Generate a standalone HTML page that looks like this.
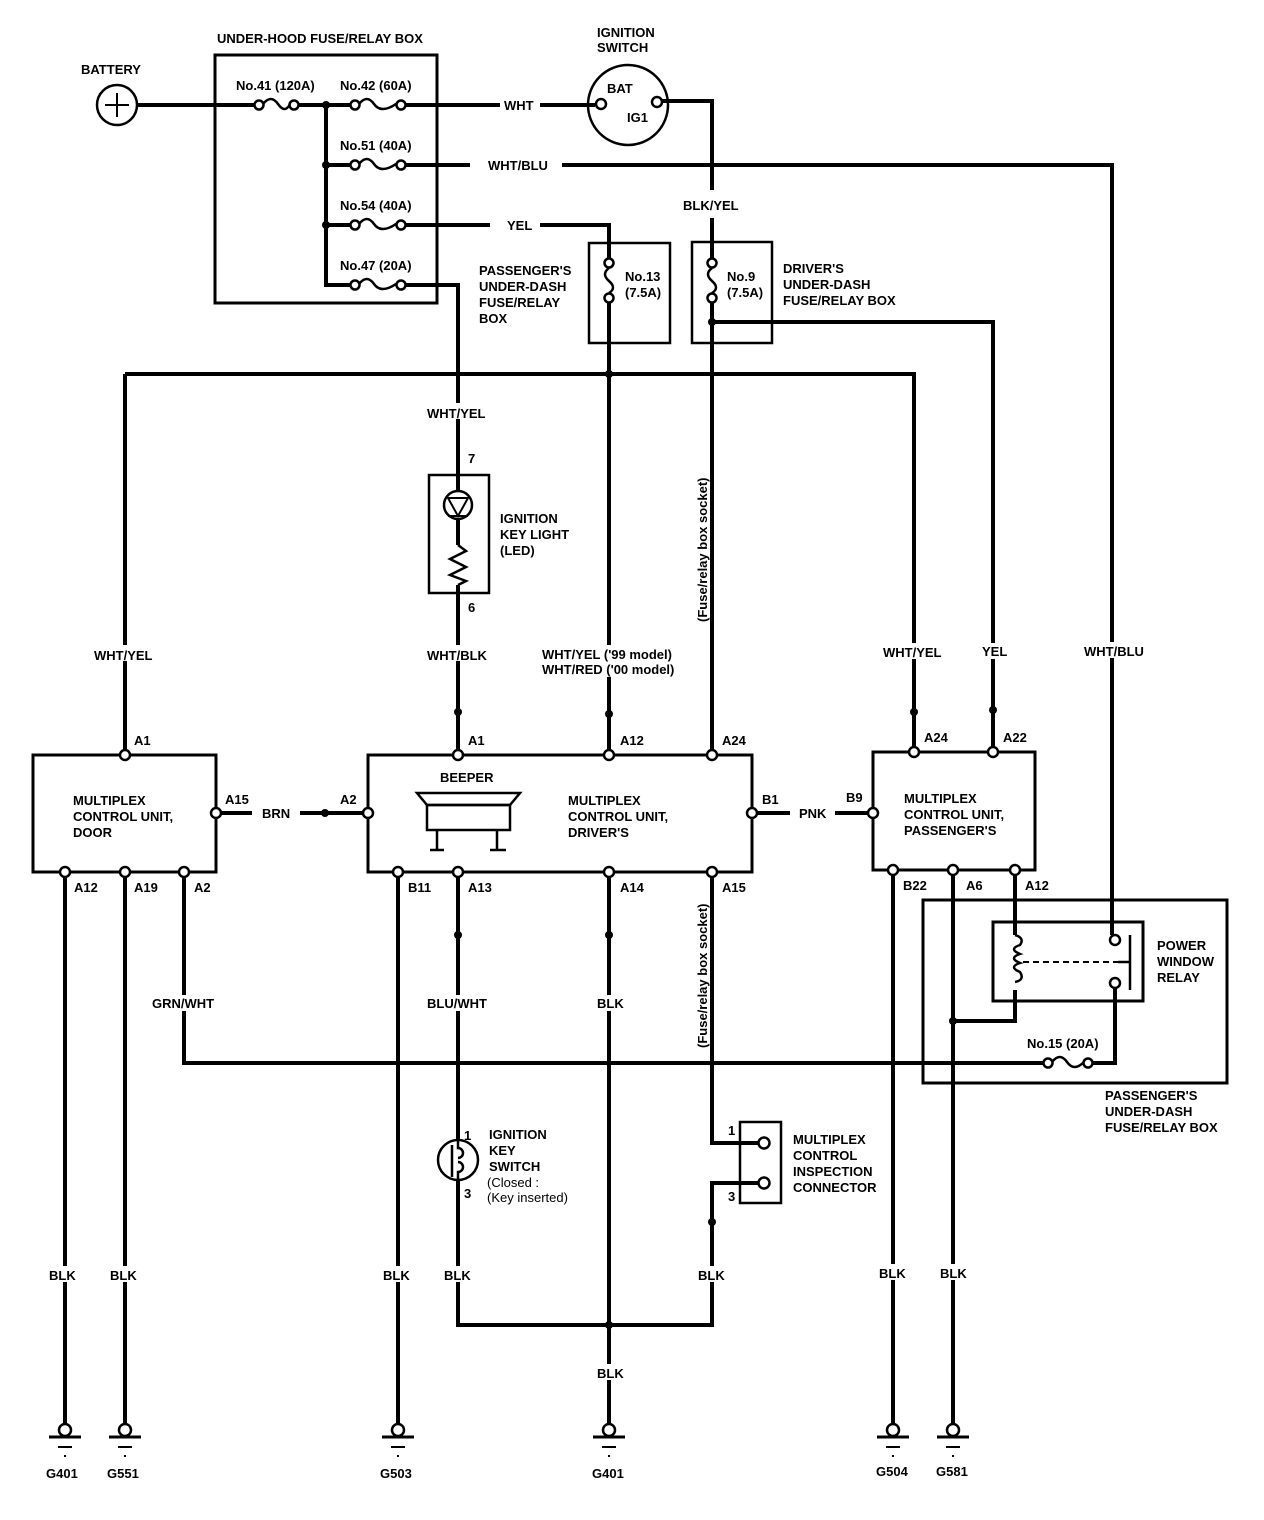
<!DOCTYPE html>
<html><head><meta charset="utf-8"><style>
html,body{margin:0;padding:0;background:#fff;}
svg{display:block;}
text{font-family:"Liberation Sans",sans-serif;font-weight:bold;font-size:13px;fill:#000;}
.m{text-anchor:middle;}
</style></head><body>
<svg width="1264" height="1520" viewBox="0 0 1264 1520" xmlns="http://www.w3.org/2000/svg">
<g fill="none" stroke="#000" stroke-width="4" stroke-linejoin="miter">
<circle cx="117" cy="105" r="20" stroke-width="2.5"/>
<path d="M105 105H129M117 93V117" stroke-width="2"/>
<path d="M137 105H254M299 105H350M326 105V285H350"/>
<path d="M326 165H350M326 225H350"/>
<rect x="215" y="55" width="222" height="248" stroke-width="3"/>
<g stroke-width="2.5">
<circle cx="259" cy="105" r="4.5"/><circle cx="294" cy="105" r="4.5"/><path d="M263 104q8-10 15 0t12 0"/>
<circle cx="355" cy="105" r="4.5"/><circle cx="401" cy="105" r="4.5"/><path d="M359 104q8-10 15 0t22 0"/>
<circle cx="355" cy="165" r="4.5"/><circle cx="401" cy="165" r="4.5"/><path d="M359 164q8-10 15 0t22 0"/>
<circle cx="355" cy="225" r="4.5"/><circle cx="401" cy="225" r="4.5"/><path d="M359 224q8-10 15 0t22 0"/>
<circle cx="355" cy="285" r="4.5"/><circle cx="401" cy="285" r="4.5"/><path d="M359 284q8-10 15 0t22 0"/>
</g>
<path d="M406 105H500M540 105H595"/>
<circle cx="628" cy="105" r="40" stroke-width="2.5"/>
<circle cx="601" cy="104" r="5" stroke-width="2.5"/>
<circle cx="657" cy="102" r="5" stroke-width="2.5"/>
<path d="M662 101H712V190M712 218V258"/>
<path d="M406 165H470M562 165H1112V935"/>
<path d="M406 225H490M540 225H609V258"/>
<path d="M406 285H458V475"/>
<rect x="589" y="243" width="81" height="100" stroke-width="2.5"/>
<rect x="692" y="242" width="80" height="101" stroke-width="2.5"/>
<g stroke-width="2.5">
<circle cx="609" cy="263" r="4.5"/><circle cx="609" cy="298" r="4.5"/><path d="M609 268q-8 6 0 13t0 12"/>
<circle cx="712" cy="263" r="4.5"/><circle cx="712" cy="298" r="4.5"/><path d="M712 268q-8 6 0 13t0 12"/>
</g>
<path d="M609 303V750M712 303V750M712 322H993V750"/>
<path d="M125 374H914V750M125 374V750"/>
<rect x="429" y="475" width="60" height="118" stroke-width="2.5"/>
<path d="M458 475V491M458 519V545M458 585V750"/>
<circle cx="458" cy="505" r="14" stroke-width="2.5"/>
<path d="M448 498H468L458 516Z M448 516H468" stroke-width="2"/>
<path d="M458 545L466 551L450 559L466 567L450 575L466 581L458 585" stroke-width="2.5"/>
<rect x="33" y="755" width="183" height="117" stroke-width="3"/>
<rect x="368" y="755" width="384" height="117" stroke-width="3"/>
<rect x="873" y="752" width="162" height="118" stroke-width="3"/>
<path d="M417 793H520L510 805H427Z" stroke-width="2.5"/>
<rect x="427" y="805" width="83" height="25" stroke-width="2.5"/>
<path d="M437 830V850M430 850H444M497 830V850M490 850H506" stroke-width="2.5"/>
<path d="M221 813H252M300 813H363M757 813H790M835 813H868"/>
<path d="M65 872V1425M125 872V1425M184 872V1063H1043"/>
<path d="M398 872V1425M458 872V1140M458 1180V1325H712V1183H758"/>
<path d="M609 872V1425M712 872V1143H758"/>
<path d="M893 870V1425M953 870V1425M1015 870V935M1015 990V1021H953"/>
<path d="M1093 1063H1115V988"/>
<rect x="923" y="900" width="304" height="183" stroke-width="3"/>
<rect x="993" y="922" width="150" height="79" stroke-width="3"/>
<path d="M1015 935q10 3 5 10q-12 4 0 9q-12 4 0 9q-12 4 0 9q5 8 -5 10" stroke-width="2.5"/>
<path d="M1023 962H1118" stroke-width="2" stroke-dasharray="6 4"/>
<path d="M1130 935V990M1118 962H1130" stroke-width="2.5"/>
<circle cx="1115" cy="940" r="5" stroke-width="2.5"/>
<circle cx="1115" cy="983" r="5" stroke-width="2.5"/>
<g stroke-width="2.5">
<circle cx="1048" cy="1063" r="4.5"/><circle cx="1088" cy="1063" r="4.5"/><path d="M1052 1062q8-10 15 0t17 0"/>
</g>
<circle cx="458" cy="1160" r="20" stroke-width="2.5"/>
<path d="M452 1145V1177M458 1140v8a5 5 0 0 1 0 10M458 1180v-8a5 5 0 0 0 0-10" stroke-width="2.5"/>
<rect x="740" y="1122" width="41" height="81" stroke-width="2.5"/>
<circle cx="764" cy="1143" r="5.5" stroke-width="2.5"/>
<circle cx="764" cy="1183" r="5.5" stroke-width="2.5"/>
</g>
<g fill="#fff" stroke="#000" stroke-width="2.5">
<circle cx="125" cy="755" r="5"/><circle cx="216" cy="813" r="5"/>
<circle cx="65" cy="872" r="5"/><circle cx="125" cy="872" r="5"/><circle cx="184" cy="872" r="5"/>
<circle cx="368" cy="813" r="5"/><circle cx="458" cy="755" r="5"/><circle cx="609" cy="755" r="5"/><circle cx="712" cy="755" r="5"/>
<circle cx="752" cy="813" r="5"/>
<circle cx="398" cy="872" r="5"/><circle cx="458" cy="872" r="5"/><circle cx="609" cy="872" r="5"/><circle cx="712" cy="872" r="5"/>
<circle cx="873" cy="813" r="5"/><circle cx="914" cy="752" r="5"/><circle cx="993" cy="752" r="5"/>
<circle cx="893" cy="870" r="5"/><circle cx="953" cy="870" r="5"/><circle cx="1015" cy="870" r="5"/>
</g>
<g fill="#000">
<circle cx="326" cy="105" r="4"/><circle cx="326" cy="165" r="4"/><circle cx="326" cy="225" r="4"/>
<circle cx="712" cy="322" r="4"/><circle cx="609" cy="374" r="4"/>
<circle cx="458" cy="712" r="4"/><circle cx="609" cy="714" r="4"/><circle cx="914" cy="712" r="4"/><circle cx="993" cy="710" r="4"/>
<circle cx="325" cy="813" r="4"/>
<circle cx="458" cy="935" r="4"/><circle cx="609" cy="935" r="4"/><circle cx="712" cy="1222" r="4"/>
<circle cx="609" cy="1325" r="4"/><circle cx="953" cy="1021" r="4"/>
</g>
<g fill="none" stroke="#000">
<g id="gd">
<circle cx="65" cy="1430" r="6" stroke-width="2.5" fill="#fff"/>
<path d="M49 1437H81" stroke-width="3"/><path d="M58 1447H72" stroke-width="2"/><path d="M64 1456H66" stroke-width="2"/>
</g>
<use href="#gd" x="60"/><use href="#gd" x="333"/><use href="#gd" x="544"/><use href="#gd" x="828"/><use href="#gd" x="888"/>
</g>
<g fill="#fff">
<rect x="440" y="403" width="38" height="16"/><rect x="100" y="645" width="50" height="16"/>
<rect x="425" y="645" width="66" height="16"/><rect x="540" y="645" width="140" height="32"/>
<rect x="880" y="643" width="66" height="16"/><rect x="980" y="643" width="26" height="16"/><rect x="1082" y="642" width="66" height="16"/>
<rect x="150" y="995" width="70" height="16"/><rect x="425" y="995" width="66" height="16"/><rect x="594" y="995" width="30" height="16"/>
<rect x="46" y="1266" width="38" height="16"/><rect x="106" y="1266" width="38" height="16"/><rect x="380" y="1266" width="38" height="16"/>
<rect x="440" y="1266" width="38" height="16"/><rect x="694" y="1266" width="38" height="16"/><rect x="594" y="1364" width="30" height="16"/>
<rect x="875" y="1264" width="38" height="16"/><rect x="935" y="1264" width="38" height="16"/>
</g>
<text x="81" y="74">BATTERY</text>
<text x="217" y="43">UNDER-HOOD FUSE/RELAY BOX</text>
<text x="597" y="37">IGNITION</text><text x="597" y="52">SWITCH</text>
<text x="236" y="90">No.41 (120A)</text><text x="340" y="90">No.42 (60A)</text>
<text x="340" y="150">No.51 (40A)</text><text x="340" y="210">No.54 (40A)</text><text x="340" y="270">No.47 (20A)</text>
<text x="504" y="110">WHT</text><text x="488" y="170">WHT/BLU</text><text x="507" y="230">YEL</text>
<text x="607" y="93">BAT</text><text x="627" y="122">IG1</text>
<text x="683" y="210">BLK/YEL</text>
<text x="479" y="275">PASSENGER'S</text><text x="479" y="291">UNDER-DASH</text><text x="479" y="307">FUSE/RELAY</text><text x="479" y="323">BOX</text>
<text x="625" y="281">No.13</text><text x="625" y="297">(7.5A)</text>
<text x="727" y="281">No.9</text><text x="727" y="297">(7.5A)</text>
<text x="783" y="273">DRIVER'S</text><text x="783" y="289">UNDER-DASH</text><text x="783" y="305">FUSE/RELAY BOX</text>
<text x="427" y="418">WHT/YEL</text>
<text x="468" y="463">7</text><text x="468" y="612">6</text>
<text x="500" y="523">IGNITION</text><text x="500" y="539">KEY LIGHT</text><text x="500" y="555">(LED)</text>
<text transform="translate(707,622) rotate(-90)">(Fuse/relay box socket)</text>
<text x="94" y="660">WHT/YEL</text><text x="427" y="660">WHT/BLK</text>
<text x="542" y="659">WHT/YEL ('99 model)</text><text x="542" y="674">WHT/RED ('00 model)</text>
<text x="883" y="657">WHT/YEL</text><text x="982" y="656">YEL</text><text x="1084" y="656">WHT/BLU</text>
<text x="134" y="745">A1</text><text x="468" y="745">A1</text><text x="620" y="745">A12</text><text x="722" y="745">A24</text>
<text x="924" y="742">A24</text><text x="1003" y="742">A22</text>
<text x="73" y="805">MULTIPLEX</text><text x="73" y="821">CONTROL UNIT,</text><text x="73" y="837">DOOR</text>
<text x="225" y="804">A15</text><text x="262" y="818">BRN</text><text x="340" y="804">A2</text>
<text x="440" y="782">BEEPER</text>
<text x="568" y="805">MULTIPLEX</text><text x="568" y="821">CONTROL UNIT,</text><text x="568" y="837">DRIVER'S</text>
<text x="762" y="804">B1</text><text x="799" y="818">PNK</text><text x="846" y="802">B9</text>
<text x="904" y="803">MULTIPLEX</text><text x="904" y="819">CONTROL UNIT,</text><text x="904" y="835">PASSENGER'S</text>
<text x="74" y="892">A12</text><text x="134" y="892">A19</text><text x="194" y="892">A2</text>
<text x="408" y="892">B11</text><text x="468" y="892">A13</text><text x="620" y="892">A14</text><text x="722" y="892">A15</text>
<text transform="translate(707,1048) rotate(-90)">(Fuse/relay box socket)</text>
<text x="903" y="890">B22</text><text x="966" y="890">A6</text><text x="1025" y="890">A12</text>
<text x="1157" y="950">POWER</text><text x="1157" y="966">WINDOW</text><text x="1157" y="982">RELAY</text>
<text x="1027" y="1048">No.15 (20A)</text>
<text x="1105" y="1100">PASSENGER'S</text><text x="1105" y="1116">UNDER-DASH</text><text x="1105" y="1132">FUSE/RELAY BOX</text>
<text x="152" y="1008">GRN/WHT</text><text x="427" y="1008">BLU/WHT</text><text x="597" y="1008">BLK</text>
<text x="464" y="1140">1</text><text x="464" y="1198">3</text>
<text x="489" y="1139">IGNITION</text><text x="489" y="1155">KEY</text><text x="489" y="1171">SWITCH</text>
<text x="487" y="1187" style="font-weight:normal">(Closed :</text><text x="487" y="1202" style="font-weight:normal">(Key inserted)</text>
<text x="728" y="1135">1</text><text x="728" y="1201">3</text>
<text x="793" y="1144">MULTIPLEX</text><text x="793" y="1160">CONTROL</text><text x="793" y="1176">INSPECTION</text><text x="793" y="1192">CONNECTOR</text>
<text x="49" y="1280">BLK</text><text x="110" y="1280">BLK</text><text x="383" y="1280">BLK</text><text x="444" y="1280">BLK</text>
<text x="698" y="1280">BLK</text><text x="597" y="1378">BLK</text><text x="879" y="1278">BLK</text><text x="940" y="1278">BLK</text>
<text x="46" y="1478">G401</text><text x="107" y="1478">G551</text><text x="380" y="1478">G503</text>
<text x="592" y="1478">G401</text><text x="876" y="1476">G504</text><text x="936" y="1476">G581</text>
</svg>
</body></html>
